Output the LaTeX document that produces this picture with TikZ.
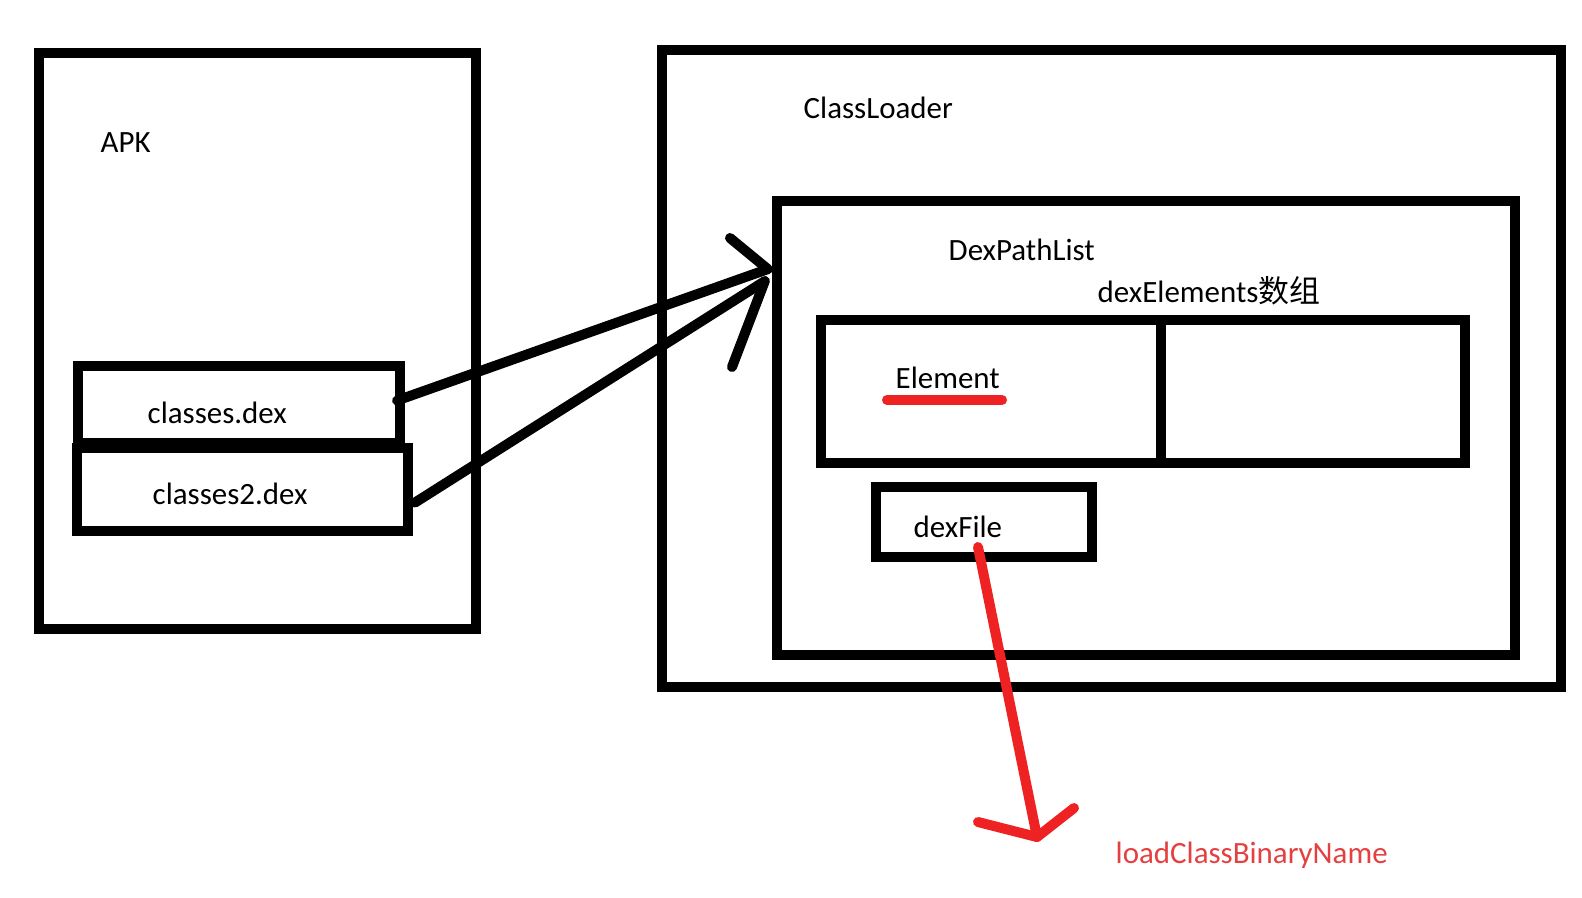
\documentclass[tikz,border=0pt]{standalone}
\usepackage{fontspec}
\setmainfont{Carlito}
\newfontfamily\cjk{Noto Sans CJK SC}
\usetikzlibrary{calc,positioning}

\definecolor{penred}{RGB}{238,34,34}
\definecolor{notered}{RGB}{228,64,64}

\begin{document}
\begin{tikzpicture}[x=0.01cm,y=-0.01cm,line cap=round,line join=round,
                    box/.style={draw,line width=0.1cm,line cap=butt,line join=miter,
                                inner sep=0pt,outer sep=0pt},
                    word/.style={anchor=base west,inner sep=0pt,
                                 font=\fontsize{8.8pt}{10pt}\selectfont},
                    pen/.style={line width=0.1cm},
                    redpen/.style={pen,draw=penred}]
  \useasboundingbox (0,0) rectangle (1582,897);
  % boxes
  \node[box,minimum width=4.375cm,minimum height=5.755cm] (apk) at (257.5,341) {};
  \node[box,minimum width=3.22cm,minimum height=0.77cm] (cls1) at (239,404.5) {};
  \node[box,minimum width=3.31cm,minimum height=0.83cm] (cls2) at (242.5,489.5) {};
  \node[box,minimum width=8.99cm,minimum height=6.37cm] (loader) at (1111.5,368.5) {};
  \node[box,minimum width=7.38cm,minimum height=4.535cm] (dpl) at (1146,428) {};
  \node[box,minimum width=6.44cm,minimum height=1.42cm] (array) at (1143,391.5) {};
  \node[box,minimum width=2.16cm,minimum height=0.70cm] (dexfile) at (984,522) {};
  \draw[box] (array.north -| 1161,0) -- (array.south -| 1161,0);
  % labels
  \node[word] (apklabel) at (100,152) {APK};
  \node[word] (cls1label) at (147,423) {classes.dex};
  \node[word] (cls2label) at (152,504) {classes2.dex};
  \node[word] (loaderlabel) at (803,118) {ClassLoader};
  \node[word] (dpllabel) at (948,260) {DexPathList};
  \node[word] (arraylabel) at (1097,302) {dexElements{\cjk 数组}};
  \node[word] (elem) at (895,388) {Element};
  \node[word] (dexfilelabel) at (913,537) {dexFile};
  \node[word,text=notered] (loadlabel) at (1115,863) {loadClassBinaryName};
  % black arrows into DexPathList
  \coordinate (tip1) at ($(dpl.north west)+(-9,68)$);
  \coordinate (tip2) at ($(dpl.north west)+(-12,80)$);
  \coordinate (barb1) at (730,238);
  \coordinate (barb2) at (732,367);
  \draw[pen] ($(cls1.east)+(-3,-4)$) -- (tip1);
  \draw[pen] ($(cls2.east)+(7,13)$) -- (tip2);
  \draw[pen] (barb1) -- (tip1);
  \draw[pen] (barb2) -- (tip2);
  % red marks
  \draw[redpen] ($(elem.base west)+(-8,12)$) -- ($(elem.base west)+(107,12)$);
  \coordinate (redstart) at ($(dexfile.south)+(-6,-10)$);
  \coordinate (redtip) at (1037,837);
  \draw[redpen] (redstart) -- (redtip);
  \draw[redpen] (978,822) -- (redtip) -- (1074,808);
\end{tikzpicture}
\end{document}
